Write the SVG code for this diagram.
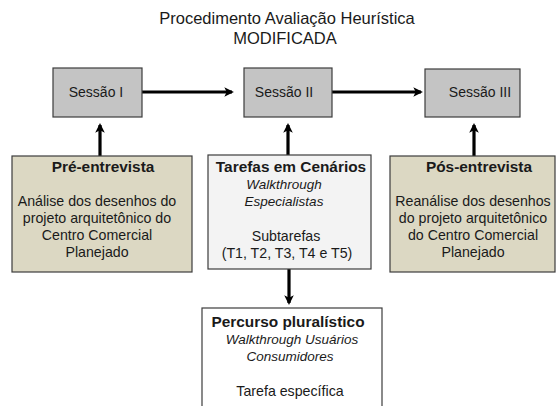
<svg xmlns="http://www.w3.org/2000/svg" width="557" height="406" viewBox="0 0 557 406">
<defs>
<style>
text{font-family:"Liberation Sans",Arial,sans-serif;fill:#1a1a1a;text-anchor:middle}
.title{font-size:16.5px}
.sess{font-size:14px}
.b{font-size:15.4px;font-weight:bold}
.t{font-size:14.2px}
.i{font-size:13.5px;font-style:italic}
.sbox{fill:#c4c4c4;stroke:#3c3c3c;stroke-width:1.2}
.beige{fill:#dcd8c3;stroke:#3c3c3c;stroke-width:1.2}
.light{fill:#f3f3f3;stroke:#3c3c3c;stroke-width:1.2}
.white{fill:#ffffff;stroke:#3c3c3c;stroke-width:1.2}
.conn{stroke:#000;stroke-width:3.2;fill:none}
</style>
<marker id="ah" viewBox="0 0 10 10" refX="8" refY="5" markerWidth="3" markerHeight="3" orient="auto" markerUnits="strokeWidth">
<path d="M0,0 L10,5 L0,10 L2.5,5 Z" fill="#000"/>
</marker>
</defs>
<rect width="557" height="406" fill="#fff"/>
<g id="title">
<text class="title" x="287" y="24">Procedimento Avaliação Heurística</text>
<text class="title" x="285" y="44">MODIFICADA</text>
</g>
<g id="connectors">
<line class="conn" x1="142" y1="92" x2="232" y2="92" marker-end="url(#ah)"/>
<line class="conn" x1="332" y1="92" x2="421" y2="92" marker-end="url(#ah)"/>
<line class="conn" x1="100" y1="156" x2="100" y2="125" marker-end="url(#ah)"/>
<line class="conn" x1="288" y1="155" x2="288" y2="125" marker-end="url(#ah)"/>
<line class="conn" x1="474" y1="156" x2="474" y2="125" marker-end="url(#ah)"/>
<line class="conn" x1="289" y1="269" x2="289" y2="303" marker-end="url(#ah)"/>
</g>
<g id="sessao1">
<rect class="sbox" x="53" y="68" width="89" height="49"/>
<text class="sess" x="96" y="97">Sessão I</text>
</g>
<g id="sessao2">
<rect class="sbox" x="244" y="68" width="88" height="49"/>
<text class="sess" x="284" y="97">Sessão II</text>
</g>
<g id="sessao3">
<rect class="sbox" x="425" y="69" width="95" height="48"/>
<text class="sess" x="480" y="97">Sessão III</text>
</g>
<g id="pre">
<rect class="beige" x="12" y="156" width="180" height="116"/>
<text class="b" x="103" y="172">Pré-entrevista</text>
<text class="t" x="97" y="206">Análise dos desenhos do</text>
<text class="t" x="97" y="223">projeto arquitetônico do</text>
<text class="t" x="97" y="240">Centro Comercial</text>
<text class="t" x="97" y="257">Planejado</text>
</g>
<g id="tarefas">
<rect class="light" x="208" y="155" width="163" height="114"/>
<text class="b" x="291" y="172">Tarefas em Cenários</text>
<text class="i" x="284" y="189">Walkthrough</text>
<text class="i" x="284" y="206">Especialistas</text>
<text class="t" x="286" y="241">Subtarefas</text>
<text class="t" x="287" y="258">(T1, T2, T3, T4 e T5)</text>
</g>
<g id="pos">
<rect class="beige" x="390" y="156" width="165" height="116"/>
<text class="b" x="479" y="172">Pós-entrevista</text>
<text class="t" x="473" y="206">Reanálise dos desenhos</text>
<text class="t" x="473" y="223">do projeto arquitetônico</text>
<text class="t" x="473" y="240">do Centro Comercial</text>
<text class="t" x="473" y="257">Planejado</text>
</g>
<g id="percurso">
<rect class="white" x="202" y="308" width="180" height="120"/>
<text class="b" x="288" y="327">Percurso pluralístico</text>
<text class="i" x="292" y="344">Walkthrough Usuários</text>
<text class="i" x="290" y="361">Consumidores</text>
<text class="t" x="290" y="396">Tarefa específica</text>
</g>
</svg>
